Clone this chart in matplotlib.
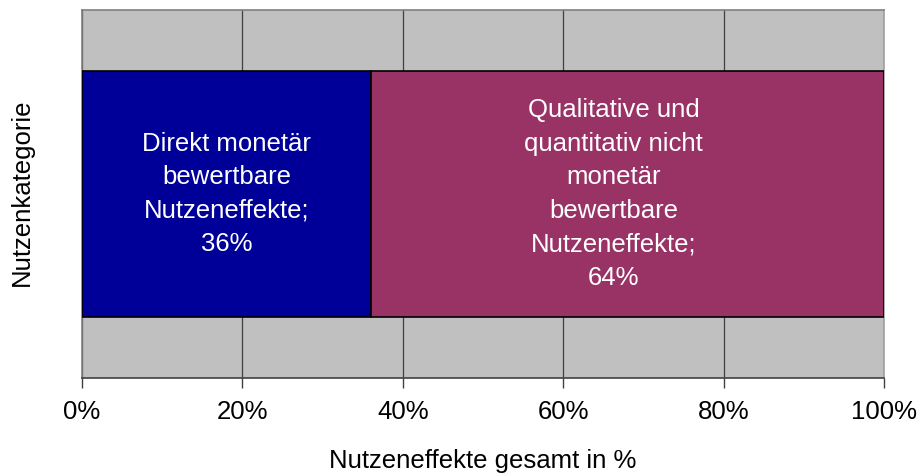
import matplotlib.pyplot as plt
import numpy as np

plt.rcParams['font.family'] = ['Liberation Sans', 'DejaVu Sans']

categories = ['Nutzeneffekte']
segment_values = [36, 64]
segment_labels = [
    'Direkt monetär\nbewertbare\nNutzeneffekte;\n36%',
    'Qualitative und\nquantitativ nicht\nmonetär\nbewertbare\nNutzeneffekte;\n64%',
]
segment_colors = ['#000099', '#993366']
x_ticks = [0, 20, 40, 60, 80, 100]
x_tick_labels = ['0%', '20%', '40%', '60%', '80%', '100%']

fs = 18.5
# small horizontal nudge of the in-bar labels (points)
label_dx = [0, -10]

fig = plt.figure(figsize=(9.17, 4.75), dpi=100)
ax = fig.add_axes([0.0894, 0.204, 0.875, 0.775])
ax.set_facecolor('#C0C0C0')

left = 0
for val, lab, col, dx in zip(segment_values, segment_labels, segment_colors, label_dx):
    ax.barh(0, val, left=left, height=0.67, color=col, edgecolor='black',
            linewidth=1.2, zorder=3)
    ax.annotate(lab, (left + val / 2, 0), xytext=(dx, 0), textcoords='offset points',
                ha='center', va='center', color='white',
                fontsize=fs, linespacing=1.5, zorder=4)
    left += val

ax.set_xlim(0, 100)
ax.set_ylim(-0.5, 0.5)
ax.set_xticks(x_ticks)
ax.set_xticklabels(x_tick_labels, fontsize=fs)
ax.set_yticks([])
ax.grid(axis='x', color='#404040', linewidth=0.9, zorder=1)
ax.tick_params(axis='x', length=7, width=1, color='#404040', pad=9)

ax.spines['top'].set_color('#808080')
ax.spines['left'].set_color('#808080')
ax.spines['right'].set_color('#A0A0A0')
ax.spines['bottom'].set_color('#404040')
for s in ax.spines.values():
    s.set_linewidth(1.2)

ax.set_xlabel('Nutzeneffekte gesamt in %', fontsize=fs, labelpad=18)
fig.text(22 / 917, 1 - 192 / 475, 'Nutzenkategorie', rotation=90,
         ha='center', va='center', fontsize=fs)

fig.savefig('out.png', dpi=100)
